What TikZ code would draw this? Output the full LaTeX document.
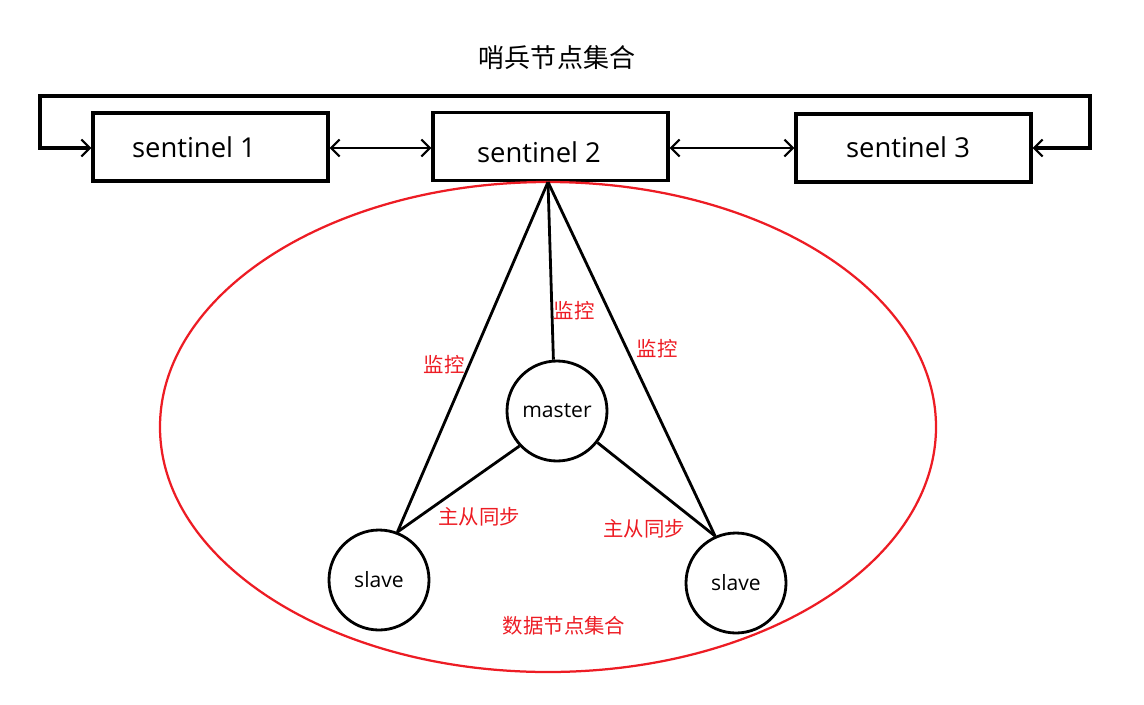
\documentclass[tikz,border=0pt]{standalone}
\usepackage{fontspec}
\setmainfont{Open Sans}
\newfontfamily\cjk{Noto Sans CJK SC}
\usetikzlibrary{arrows.meta}
\definecolor{paintred}{RGB}{237,28,36}
\tikzset{
  box/.style={draw,line width=2.2pt,minimum width=\boxwidth*0.025cm,minimum height=\boxheight*0.025cm,inner sep=0},
  boxtext/.style={font=\fontsize{19.5}{21}\selectfont,inner sep=0},
  dnode/.style={circle,draw,line width=2pt,minimum size=100*0.025cm,inner sep=0,font=\fontsize{15}{17}\selectfont},
  link/.style={line width=2pt},
  redtext/.style={text=paintred,font=\cjk\fontsize{14.5}{16}\selectfont,inner sep=0},
  barb/.tip={Straight Barb[length=6pt,width=12pt,line width=1.6pt]}
}
\begin{document}
\begin{tikzpicture}[x=0.025cm,y=-0.025cm]
    \pgfmathsetmacro{\boxwidth}{235}
    \pgfmathsetmacro{\boxheight}{68}
    \useasboundingbox (0,0) rectangle (1144,704);
    % title
    \node[font=\cjk\fontsize{18.5}{20}\selectfont,inner sep=0] (title) at (557,58) {哨兵节点集合};
    % sentinels
    \node[box] (s1) at (210.5,147) {};
    \node[box] (s2) at (550.5,146.5) {};
    \node[box] (s3) at (913.5,148) {};
    \node[boxtext] (t1) at (194,147) {sentinel 1};
    \node[boxtext] (t2) at (539,152) {sentinel 2};
    \node[boxtext] (t3) at (908,147) {sentinel 3};
    \draw[line width=2pt,{barb}-{barb}] (s1.east |- 0,148) -- (s2.west |- 0,148);
    \draw[line width=2pt,{barb}-{barb}] (s2.east |- 0,148) -- (s3.west |- 0,148);
    \draw[line width=2.2pt,{barb}-{barb}] (s1.west |- 0,148) -- (40,148) -- (40,96) -- (1090,96) -- (1090,148) -- (s3.east |- 0,148);
    % data nodes
    \draw[paintred,line width=1.6pt] (548,427) ellipse [x radius=388,y radius=245];
    \node[dnode] (m) at (557,411) {master};
    \node[dnode] (sl) at (379,580) {slave};
    \node[dnode] (sr) at (736,583) {slave};
    \coordinate (apex) at (548,182);
    \draw[link] (apex) -- (sl.69);
    \draw[link] (apex) -- (m.94);
    \draw[link] (apex) -- (sr.114);
    \draw[link] (m.223) -- (sl.69);
    \draw[link] (m.-38) -- (sr.114);
    % labels
    \node[redtext] (w1) at (444,365) {监控};
    \node[redtext] (w2) at (574,311) {监控};
    \node[redtext] (w3) at (657,349) {监控};
    \node[redtext] (r1) at (479,517) {主从同步};
    \node[redtext] (r2) at (644,529) {主从同步};
    \node[redtext] (data) at (564,626) {数据节点集合};
\end{tikzpicture}
\end{document}
